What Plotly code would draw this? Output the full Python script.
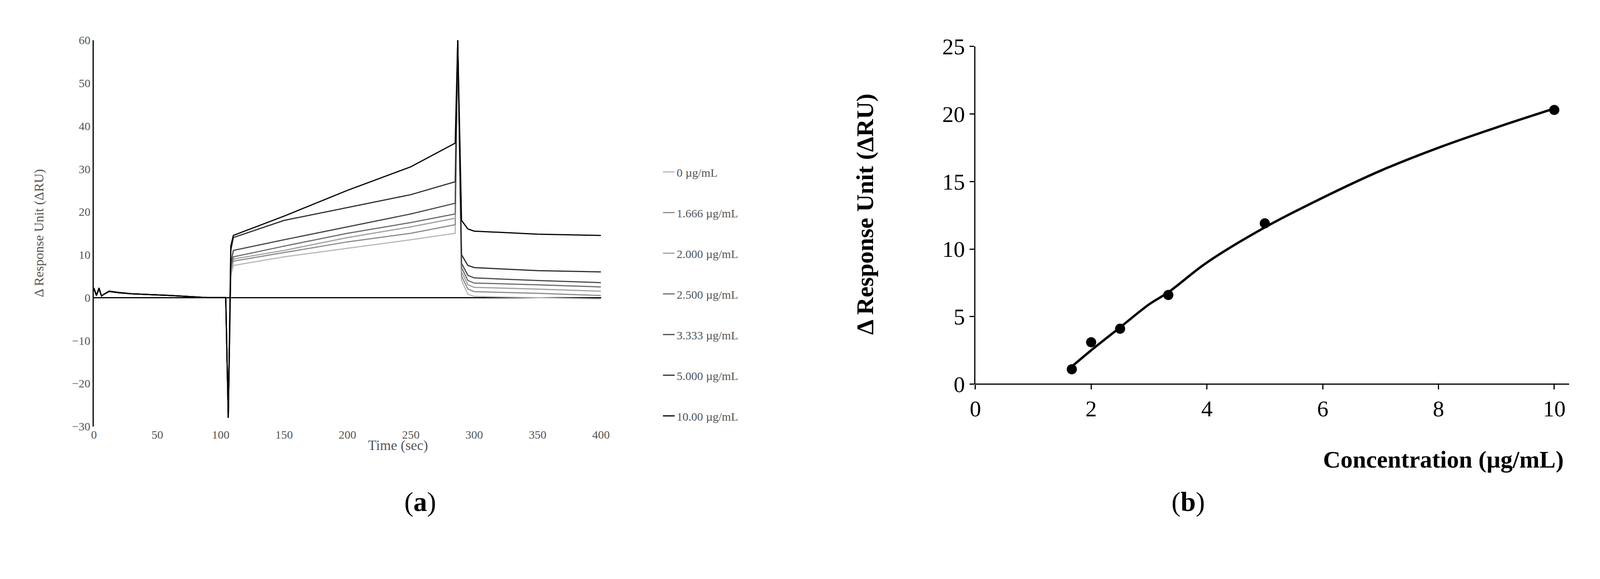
import plotly.graph_objects as go

# Sensorgram (a)
t = [0, 2, 4, 6, 8, 12, 20, 30, 60, 90, 104, 106, 108, 110, 150, 200, 250, 285, 287, 290, 295, 300, 350, 400]
labels = ["0 µg/mL", "1.666 µg/mL", "2.000 µg/mL", "2.500 µg/mL", "3.333 µg/mL", "5.000 µg/mL", "10.00 µg/mL"]
resp = [
    [1.8, 0.5, 1.8, 0.4, 0.8, 1.4, 1.1, 0.9, 0.5, 0.0, 0, -28, 5, 7.5, 9.5, 11.5, 13.5, 15.0, 60, 4, 0.8, 0.3, 0.0, -0.3],
    [1.9, 0.5, 1.9, 0.4, 0.8, 1.4, 1.1, 0.9, 0.5, 0.0, 0, -28, 6, 8.5, 10.5, 13.0, 15.0, 17.0, 60, 5, 2.0, 1.4, 1.0, 0.5],
    [2.0, 0.5, 2.0, 0.4, 0.8, 1.4, 1.1, 0.9, 0.5, 0.0, 0, -28, 6.5, 9.0, 11.0, 14.0, 16.5, 18.5, 60, 6, 3.0, 2.4, 2.0, 1.5],
    [2.0, 0.5, 2.0, 0.4, 0.8, 1.4, 1.1, 0.9, 0.5, 0.0, 0, -28, 7, 9.5, 12.0, 15.0, 17.5, 19.5, 60, 7, 4.0, 3.4, 3.0, 2.5],
    [2.1, 0.5, 2.1, 0.4, 0.8, 1.5, 1.1, 0.9, 0.5, 0.0, 0, -28, 8, 11.0, 13.5, 16.5, 19.5, 22.0, 60, 8, 5.2, 4.6, 4.0, 3.5],
    [2.2, 0.5, 2.2, 0.4, 0.8, 1.5, 1.2, 0.9, 0.5, 0.0, 0, -28, 11, 14.0, 18.0, 21.0, 24.0, 27.0, 60, 10, 7.5, 7.0, 6.3, 6.0],
    [2.3, 0.5, 2.3, 0.4, 0.8, 1.5, 1.2, 0.9, 0.5, 0.0, 0, -28, 12, 14.5, 19.0, 25.0, 30.5, 36.0, 60, 18, 16.0, 15.5, 14.8, 14.5],
]
colors = ["#b8b8b8", "#8c8c8c", "#a0a0a0", "#6e6e6e", "#4a4a4a", "#2e2e2e", "#000000"]

# Binding curve (b)
conc = [1.666, 2, 2.5, 3.333, 5, 10]
ru = [1.1, 3.1, 4.1, 6.6, 11.9, 20.3]
fit_x = [1.666, 2, 2.5, 3, 3.333, 4, 5, 6, 7, 8, 9, 10]
fit_y = [1.3, 2.5, 4.2, 5.9, 6.8, 9.0, 11.6, 13.8, 15.8, 17.5, 19.0, 20.4]

fig = go.Figure()
for i, (lab, y) in enumerate(zip(labels, resp)):
    fig.add_trace(go.Scatter(x=t, y=y, mode="lines", name=lab, legendgroup=lab,
                             line=dict(color=colors[i], width=3), xaxis="x", yaxis="y"))

fig.add_trace(go.Scatter(x=fit_x, y=fit_y, mode="lines", line=dict(color="black", width=6, shape="spline"),
                         showlegend=False, xaxis="x2", yaxis="y2"))
fig.add_trace(go.Scatter(x=conc, y=ru, mode="markers", marker=dict(color="black", size=26),
                         showlegend=False, xaxis="x2", yaxis="y2"))

serif = "Liberation Serif"
fig.update_layout(
    autosize=True, height=1400, margin=dict(l=0, r=0, t=0, b=0),
    paper_bgcolor="white", plot_bgcolor="white",
    font=dict(family=serif, color="#555555"),
    xaxis=dict(domain=[0.054, 0.375], range=[0, 400], dtick=50, showgrid=False, zeroline=False,
               showline=False, ticks="", tickfont=dict(size=30, color="#555555")),
    yaxis=dict(domain=[0.213, 0.953], range=[-30, 60], dtick=10, showgrid=False, zeroline=True,
               zerolinecolor="black", zerolinewidth=3, showline=True, linecolor="black", linewidth=3,
               ticks="", tickfont=dict(size=30, color="#555555")),
    xaxis2=dict(domain=[0.612, 0.988], range=[0, 10.26], tickvals=[0, 2, 4, 6, 8, 10], showgrid=False,
                zeroline=False, showline=False, ticks="outside", ticklen=12, tickwidth=3, tickcolor="black",
                anchor="y2", tickfont=dict(size=58, color="black")),
    yaxis2=dict(domain=[0.294, 0.941], range=[0, 25], dtick=5, showgrid=False, zeroline=True,
                zerolinecolor="black", zerolinewidth=3, showline=True, linecolor="black", linewidth=3,
                ticks="outside", ticklen=12, tickwidth=3, tickcolor="black", anchor="x2",
                tickfont=dict(size=58, color="black")),
    legend=dict(x=0.413, y=0.72, xanchor="left", yanchor="top", tracegroupgap=62,
                font=dict(size=30, color="#555555", family=serif), bgcolor="rgba(0,0,0,0)"),
    annotations=[
        dict(text="Time (sec)", x=0.227, y=0.16, xref="paper", yref="paper",
             showarrow=False, font=dict(size=36, color="#555555")),
        dict(text="Δ Response Unit (ΔRU)", x=0.014, y=0.583, xref="paper", yref="paper",
             showarrow=False, textangle=-90, font=dict(size=34, color="#555555")),
        dict(text="<b>Concentration (µg/mL)</b>", x=0.985, y=0.122, xref="paper",
             yref="paper", xanchor="right", showarrow=False, font=dict(size=62, color="black")),
        dict(text="<b>Δ Response Unit (ΔRU)</b>", x=0.542, y=0.62, xref="paper", yref="paper",
             showarrow=False, textangle=-90, font=dict(size=62, color="black")),
        dict(text="(<b>a</b>)", x=0.25, y=0.038, xref="paper", yref="paper",
             showarrow=False, font=dict(size=70, color="black")),
        dict(text="(<b>b</b>)", x=0.758, y=0.038, xref="paper", yref="paper",
             showarrow=False, font=dict(size=70, color="black")),
    ],
)

fig.write_html("out.html", default_width="100%", config={"responsive": True})
